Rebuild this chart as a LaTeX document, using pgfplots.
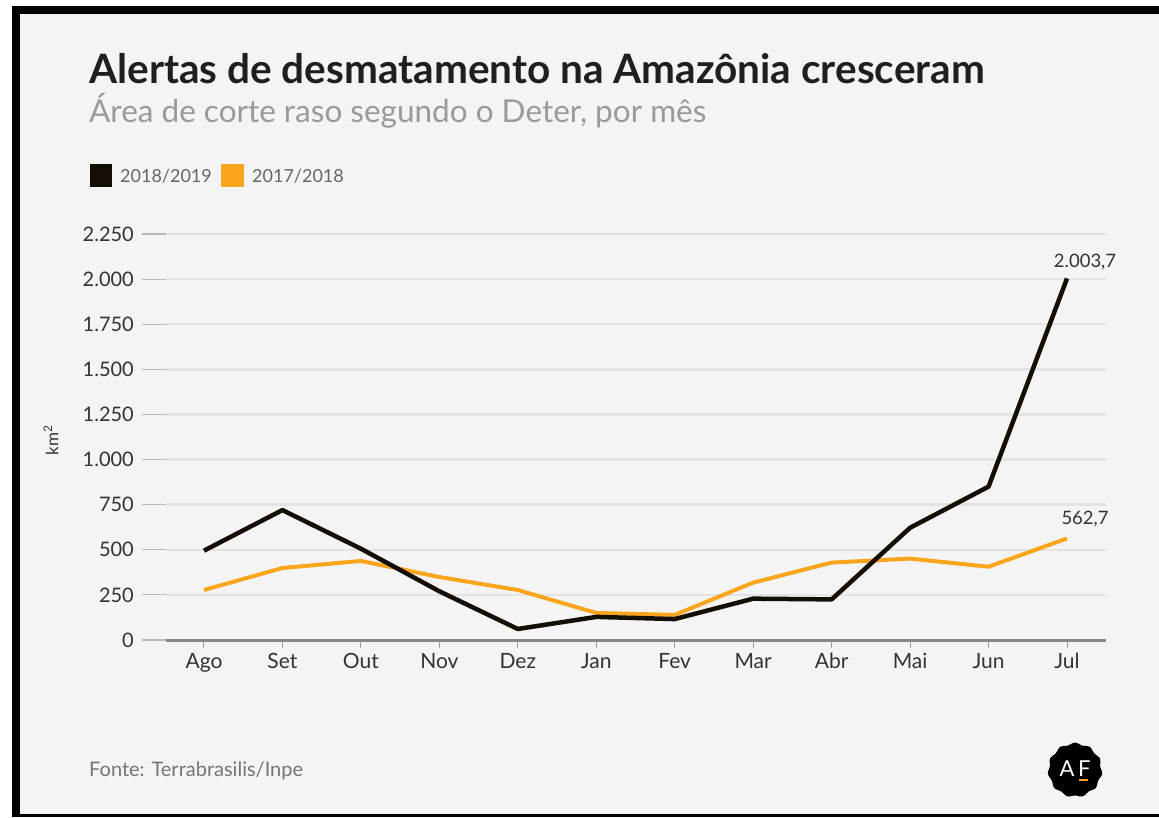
\documentclass[border=0pt]{standalone}
\usepackage{pgfplots}
\pgfplotsset{compat=1.18}
\usepackage{fontspec}
\setmainfont{Lato}
\usetikzlibrary{shapes.geometric}
\definecolor{bg}{HTML}{F4F4F4}
\definecolor{blk}{HTML}{140E05}
\definecolor{org}{HTML}{F9A61E}
\definecolor{grid}{HTML}{E3E3E3}
\definecolor{txt}{HTML}{333333}
\definecolor{sub}{HTML}{9A9A9A}
\definecolor{leg}{HTML}{666666}
\definecolor{base}{HTML}{888888}
\begin{document}
\begin{tikzpicture}[x=1pt,y=1pt]
\useasboundingbox (0,0) rectangle (1159,817);
\fill[white] (0,0) rectangle (1159,817);
\fill[black] (12,0) rectangle (1159,811);
\fill[bg] (20,3) rectangle (1159,803);
% title
\node[anchor=base west,inner sep=0pt,text=black!88] at (89,733) {\fontsize{40.5}{48}\selectfont\bfseries Alertas de desmatamento na Amazônia cresceram};
\node[anchor=base west,inner sep=0pt,text=sub] at (89,694) {\fontsize{31.5}{38}\selectfont Área de corte raso segundo o Deter, por mês};
% legend
\fill[blk] (90,630) rectangle (112,653);
\node[anchor=base west,inner sep=0pt,text=leg] at (120,634) {\fontsize{18}{22}\selectfont 2018/2019};
\fill[org] (221,630) rectangle (244,653);
\node[anchor=base west,inner sep=0pt,text=leg] at (252,634) {\fontsize{18}{22}\selectfont 2017/2018};
% source
\node[anchor=base west,inner sep=0pt,text=leg!90] at (89,41) {\fontsize{20}{24}\selectfont Fonte: Terrabrasilis/Inpe};
% logo
\node[star,star points=11,star point ratio=1.18,fill=black,minimum size=58pt,inner sep=0pt,rounded corners=4pt] at (1075,47) {};
\node[text=white,inner sep=0pt] at (1075,48) {\fontsize{22}{26}\selectfont A\,F};
\fill[org] (1079,36) rectangle (1088,38.5);
% y label
\node[rotate=90,text=txt,inner sep=0pt] at (51,377) {\fontsize{17}{21}\selectfont km\textsuperscript{2}};
\begin{axis}[
  at={(166pt,177pt)}, anchor=south west, scale only axis,
  width=940pt, height=406pt,
  xmin=-0.484, xmax=11.497, ymin=0, ymax=2250,
  axis line style={draw=none},
  tick pos=left,
  xtick={0,...,11},
  xticklabels={Ago,Set,Out,Nov,Dez,Jan,Fev,Mar,Abr,Mai,Jun,Jul},
  xtick style={draw=none},
  ytick={0,250,...,2250},
  yticklabels={0,250,500,750,1.000,1.250,1.500,1.750,2.000,2.250},
  ytick style={draw=base!60,line width=1.2pt},
  major tick length=24pt, tick align=outside,
  ymajorgrids, grid style={draw=grid,line width=2.5pt},
  yticklabel style={text=txt,font=\fontsize{20}{24}\selectfont,inner sep=0pt,anchor=east,xshift=-8pt},
  xticklabel style={text=txt,font=\fontsize{21}{25}\selectfont,inner sep=0pt,anchor=north,yshift=11pt},
  clip=false,
]
\draw[base,line width=3pt] (rel axis cs:0,0) -- (rel axis cs:1,0);
\pgfplotsinvokeforeach{0,...,11}{\draw[base!80,line width=1pt] ([yshift=-1.5pt]axis cs:#1,0) -- ([yshift=-7.5pt]axis cs:#1,0);}
\addplot[org,line width=4pt,line join=round] coordinates {
(0,277) (1,399) (2,438) (3,349) (4,277) (5,150) (6,139) (7,318) (8,429) (9,451) (10,406) (11,562.7)};
\addplot[blk,line width=4.5pt,line join=round] coordinates {
(0,495) (1,720) (2,506) (3,270) (4,61) (5,128) (6,116) (7,229) (8,225) (9,622) (10,850) (11,2003.7)};
\node[anchor=base,text=txt,inner sep=0pt] at (axis cs:11.23,2003.7) [yshift=11pt] {\fontsize{18.5}{22}\selectfont 2.003,7};
\node[anchor=base,text=txt,inner sep=0pt] at (axis cs:11.23,562.7) [yshift=14pt] {\fontsize{18.5}{22}\selectfont 562,7};
\end{axis}
\end{tikzpicture}
\end{document}
